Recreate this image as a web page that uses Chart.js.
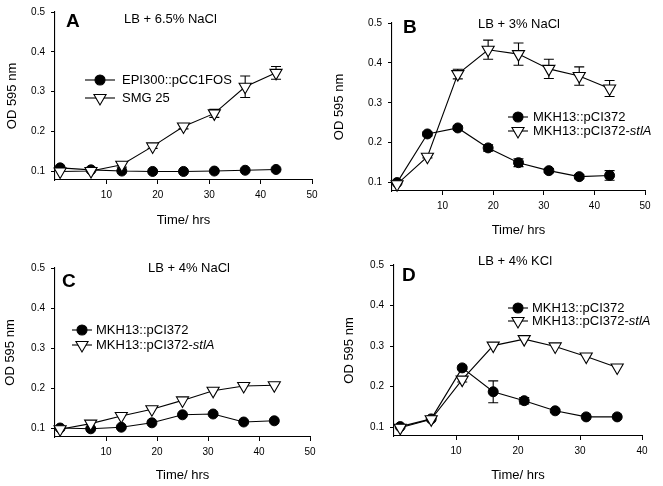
<!DOCTYPE html>
<html lang="en">
<head>
<meta charset="UTF-8">
<title>Growth curves under osmotic stress</title>
<script src="https://cdn.jsdelivr.net/npm/chart.js"></script>
<style>
  body { margin: 0; background: #fff; }
  .page { position: relative; width: 663px; height: 486px; }
  .panel { position: absolute; }
</style>
</head>
<body>
<div class="page">
  <div class="panel" style="left:0;top:0"><canvas id="chartA" width="330" height="240"></canvas></div>
  <div class="panel" style="left:330px;top:0"><canvas id="chartB" width="333" height="240"></canvas></div>
  <div class="panel" style="left:0;top:240px"><canvas id="chartC" width="330" height="246"></canvas></div>
  <div class="panel" style="left:330px;top:240px"><canvas id="chartD" width="333" height="246"></canvas></div>
</div>

<script>
  // tick labels
  var yTicks = [0.1, 0.2, 0.3, 0.4, 0.5];
  var xTicks50 = [10, 20, 30, 40, 50];
  var xTicks40 = [10, 20, 30, 40];

  // A - LB + 6.5% NaCl
  var timesA = [1, 7, 13, 19, 25, 31, 37, 43];
  var epiA = [0.108, 0.103, 0.100, 0.099, 0.099, 0.100, 0.102, 0.104];
  var epiErrA = [0, 0, 0, 0, 0, 0, 0, 0];
  var smgA = [0.099, 0.100, 0.116, 0.162, 0.212, 0.245, 0.312, 0.347];
  var smgErrA = [0, 0, 0.006, 0.005, 0.006, 0.010, 0.027, 0.016];

  // B - LB + 3% NaCl
  var timesB = [1, 7, 13, 19, 25, 31, 37, 43];
  var pciB = [0.100, 0.222, 0.237, 0.187, 0.150, 0.130, 0.115, 0.118];
  var pciErrB = [0, 0.005, 0.005, 0.008, 0.010, 0.005, 0.005, 0.012];
  var stlB = [0.096, 0.165, 0.372, 0.433, 0.422, 0.385, 0.367, 0.336];
  var stlErrB = [0, 0.003, 0.012, 0.024, 0.028, 0.024, 0.023, 0.020];

  // C - LB + 4% NaCl
  var timesC = [1, 7, 13, 19, 25, 31, 37, 43];
  var pciC = [0.100, 0.098, 0.102, 0.113, 0.133, 0.135, 0.115, 0.118];
  var pciErrC = [0, 0, 0, 0, 0, 0, 0, 0];
  var stlC = [0.097, 0.111, 0.130, 0.147, 0.169, 0.193, 0.205, 0.207];
  var stlErrC = [0, 0, 0, 0, 0, 0, 0, 0];

  // D - LB + 4% KCl
  var timesD = [1, 6, 11, 16, 21, 26, 31, 36];
  var pciD = [0.101, 0.120, 0.246, 0.187, 0.165, 0.140, 0.125, 0.125];
  var pciErrD = [0, 0, 0.004, 0.027, 0.008, 0.004, 0, 0];
  var stlD = [0.098, 0.119, 0.217, 0.301, 0.317, 0.299, 0.274, 0.247];
  var stlErrD = [0, 0, 0.006, 0, 0, 0, 0, 0];

  var black = '#000';
  var fam = "'Liberation Sans', Arial, sans-serif";
  Chart.defaults.font.family = fam;
  Chart.defaults.color = black;

  function toPoints(times, vals) {
    return times.map(function (t, i) { return { x: t, y: vals[i] }; });
  }

  function circleSeries(label, times, vals, errs) {
    return {
      label: label, data: toPoints(times, vals), errors: errs, marker: 'circle',
      borderColor: black, borderWidth: 1.1, tension: 0, clip: false, order: 2,
      pointStyle: 'circle', pointRadius: 5, pointBorderWidth: 1,
      pointBackgroundColor: black, pointBorderColor: black
    };
  }

  function triangleSeries(label, times, vals, errs, italicTail) {
    return {
      label: label, data: toPoints(times, vals), errors: errs, marker: 'triangle', italicTail: italicTail,
      borderColor: black, borderWidth: 1.1, tension: 0, clip: false, order: 1,
      pointStyle: 'triangle', pointRotation: 180, pointRadius: 7, pointBorderWidth: 1.1,
      pointBackgroundColor: '#fff', pointBorderColor: black
    };
  }

  // error bars under the markers
  var errorBars = {
    id: 'errorBars',
    beforeDatasetsDraw: function (chart) {
      var ctx = chart.ctx, ys = chart.scales.y;
      ctx.save();
      ctx.strokeStyle = black;
      ctx.lineWidth = 1.1;
      chart.data.datasets.forEach(function (ds, i) {
        if (!ds.errors) return;
        var meta = chart.getDatasetMeta(i);
        meta.data.forEach(function (pt, j) {
          var e = ds.errors[j];
          if (!e) return;
          var v = ds.data[j].y;
          var top = ys.getPixelForValue(v + e), bot = ys.getPixelForValue(v - e);
          ctx.beginPath();
          ctx.moveTo(pt.x, top); ctx.lineTo(pt.x, bot);
          ctx.moveTo(pt.x - 5, top); ctx.lineTo(pt.x + 5, top);
          ctx.moveTo(pt.x - 5, bot); ctx.lineTo(pt.x + 5, bot);
          ctx.stroke();
        });
      });
      ctx.restore();
    }
  };

  function drawMarker(ctx, kind, x, y) {
    ctx.beginPath();
    if (kind === 'circle') {
      ctx.arc(x, y, 5, 0, Math.PI * 2);
      ctx.fillStyle = black;
    } else {
      ctx.moveTo(x, y + 7);
      ctx.lineTo(x - 6.06, y - 3.5);
      ctx.lineTo(x + 6.06, y - 3.5);
      ctx.closePath();
      ctx.fillStyle = '#fff';
    }
    ctx.fill();
    ctx.stroke();
  }

  // panel letter, condition and legend
  var panelText = {
    id: 'panelText',
    afterDraw: function (chart, args, opts) {
      var ctx = chart.ctx;
      ctx.save();
      ctx.fillStyle = black;
      ctx.strokeStyle = black;
      ctx.lineWidth = 1.1;
      ctx.textBaseline = 'alphabetic';
      ctx.font = 'bold 19px ' + fam;
      ctx.fillText(opts.letter, opts.letterAt[0], opts.letterAt[1]);
      ctx.font = '13px ' + fam;
      ctx.fillText(opts.condition, opts.conditionAt[0], opts.conditionAt[1]);

      var lx = opts.legendAt[0], ly = opts.legendAt[1];
      ctx.textBaseline = 'middle';
      chart.data.datasets.forEach(function (ds, i) {
        var y = ly + i * opts.legendGap;
        ctx.beginPath();
        ctx.moveTo(lx - opts.legendLine, y); ctx.lineTo(lx + opts.legendLine, y);
        ctx.stroke();
        drawMarker(ctx, ds.marker, lx, y);
        ctx.fillStyle = black;
        var tx = lx + opts.legendText;
        var main = ds.label, tail = ds.italicTail || '';
        if (tail) main = main.slice(0, main.length - tail.length);
        ctx.font = '13px ' + fam;
        ctx.fillText(main, tx, y);
        if (tail) {
          var w = ctx.measureText(main).width;
          ctx.font = 'italic 13px ' + fam;
          ctx.fillText(tail, tx + w, y);
        }
      });
      ctx.restore();
    }
  };

  function makePanel(id, p) {
    return new Chart(document.getElementById(id), {
      type: 'line',
      data: { datasets: p.datasets },
      plugins: [errorBars, panelText],
      options: {
        responsive: false,
        animation: false,
        devicePixelRatio: 1,
        layout: { padding: { left: 0, top: p.top, right: p.right, bottom: 0 } },
        plugins: {
          legend: { display: false },
          tooltip: { enabled: false },
          panelText: p.text
        },
        scales: {
          x: {
            type: 'linear', position: 'bottom', min: 0, max: p.xMax,
            afterBuildTicks: function (s) { s.ticks = p.xTicks.map(function (v) { return { value: v }; }); },
            afterFit: function (s) { s.height = p.xHeight; },
            grid: { display: true, drawOnChartArea: false, drawTicks: true, tickLength: 4, color: black, lineWidth: 1 },
            border: { display: true, color: black, width: 1.1 },
            ticks: { font: { size: 10 }, padding: 5, color: black, maxRotation: 0 },
            title: { display: true, text: 'Time/ hrs', font: { size: 13 }, color: black, padding: { top: 0, bottom: p.xTitlePad } }
          },
          y: {
            type: 'linear', min: p.yMin, max: 0.5,
            afterBuildTicks: function (s) { s.ticks = yTicks.map(function (v) { return { value: v }; }); },
            afterFit: function (s) { s.width = p.left; },
            grid: { display: true, drawOnChartArea: false, drawTicks: true, tickLength: 4, color: black, lineWidth: 1 },
            border: { display: true, color: black, width: 1.1 },
            ticks: { font: { size: 10 }, padding: 6, color: black, callback: function (v) { return v.toFixed(1); } },
            title: { display: true, text: 'OD 595 nm', font: { size: 13 }, color: black, padding: { top: p.yTitlePad, bottom: 0 } }
          }
        }
      }
    });
  }

  makePanel('chartA', {
    left: 55, top: 11, right: 18, xHeight: 60, yMin: 0.0775, xMax: 50, xTicks: xTicks50,
    xTitlePad: 12, yTitlePad: 5,
    datasets: [
      circleSeries('EPI300::pCC1FOS', timesA, epiA, epiErrA),
      triangleSeries('SMG 25', timesA, smgA, smgErrA)
    ],
    text: { letter: 'A', letterAt: [66, 27], condition: 'LB + 6.5% NaCl', conditionAt: [124, 23],
            legendAt: [100, 80], legendGap: 18, legendLine: 15, legendText: 22 }
  });

  makePanel('chartB', {
    left: 62, top: 23, right: 18, xHeight: 49, yMin: 0.079, xMax: 50, xTicks: xTicks50,
    xTitlePad: 2, yTitlePad: 2,
    datasets: [
      circleSeries('MKH13::pCI372', timesB, pciB, pciErrB),
      triangleSeries('MKH13::pCI372-stlA', timesB, stlB, stlErrB, 'stlA')
    ],
    text: { letter: 'B', letterAt: [73, 33], condition: 'LB + 3% NaCl', conditionAt: [148, 28],
            legendAt: [188, 117], legendGap: 14, legendLine: 10, legendText: 15 }
  });

  makePanel('chartC', {
    left: 55, top: 28, right: 20, xHeight: 49, yMin: 0.0775, xMax: 50, xTicks: xTicks50,
    xTitlePad: 3, yTitlePad: 3,
    datasets: [
      circleSeries('MKH13::pCI372', timesC, pciC, pciErrC),
      triangleSeries('MKH13::pCI372-stlA', timesC, stlC, stlErrC, 'stlA')
    ],
    text: { letter: 'C', letterAt: [62, 47], condition: 'LB + 4% NaCl', conditionAt: [148, 32],
            legendAt: [82, 90], legendGap: 15, legendLine: 10, legendText: 14 }
  });

  makePanel('chartD', {
    left: 64, top: 25, right: 21, xHeight: 50, yMin: 0.0778, xMax: 40, xTicks: xTicks40,
    xTitlePad: 3, yTitlePad: 12,
    datasets: [
      circleSeries('MKH13::pCI372', timesD, pciD, pciErrD),
      triangleSeries('MKH13::pCI372-stlA', timesD, stlD, stlErrD, 'stlA')
    ],
    text: { letter: 'D', letterAt: [72, 41], condition: 'LB + 4% KCl', conditionAt: [148, 25],
            legendAt: [188, 68], legendGap: 13, legendLine: 10, legendText: 14 }
  });
</script>
</body>
</html>
